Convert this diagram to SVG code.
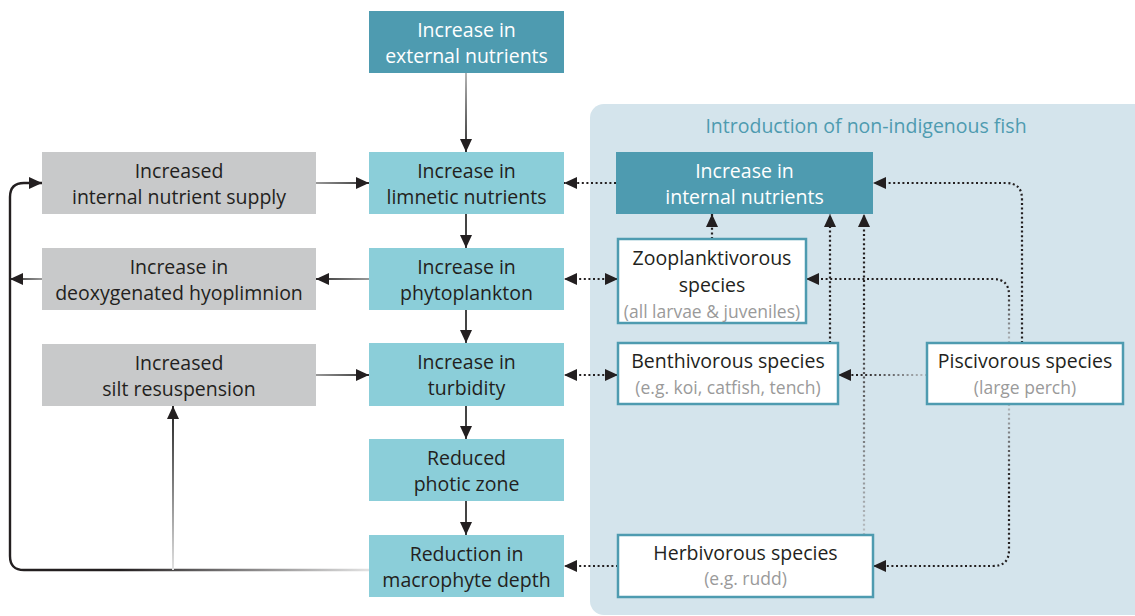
<svg xmlns="http://www.w3.org/2000/svg" width="1135" height="616" viewBox="0 0 1135 616">
<style>
text{font-family:"Open Sans","Liberation Sans",sans-serif;font-size:19.5px;text-anchor:middle;fill:#231F20}
.w{fill:#ffffff}
.sub{font-size:17.5px;fill:#9A9A9A}
.title{fill:#4E9BB0;font-size:19.5px}
.dark{fill:#4E9BB0}
.lite{fill:#8BCED9}
.grey{fill:#C8C9CA}
.fish{fill:#ffffff;stroke:#4E9BB0;stroke-width:2.5}
.solid{fill:none;stroke:#444;stroke-width:2}
.dot{fill:none;stroke:#231F20;stroke-width:2.2;stroke-dasharray:2 2.6}
</style>
<defs>
<marker id="ah" markerUnits="userSpaceOnUse" markerWidth="14" markerHeight="12" refX="13" refY="6" orient="auto-start-reverse">
<path d="M0,0 L13,6 L0,12 Z" fill="#231F20"/>
</marker>
<linearGradient id="gExt" gradientUnits="userSpaceOnUse" x1="0" y1="73" x2="0" y2="150"><stop offset="0" stop-color="#B5B5B5"/><stop offset="1" stop-color="#333"/></linearGradient>
<linearGradient id="gR" gradientUnits="userSpaceOnUse" x1="316" y1="0" x2="369" y2="0"><stop offset="0" stop-color="#999"/><stop offset="1" stop-color="#333"/></linearGradient>
<linearGradient id="gL" gradientUnits="userSpaceOnUse" x1="369" y1="0" x2="316" y2="0"><stop offset="0" stop-color="#999"/><stop offset="1" stop-color="#333"/></linearGradient>
<linearGradient id="gL2" gradientUnits="userSpaceOnUse" x1="42" y1="0" x2="10" y2="0"><stop offset="0" stop-color="#999"/><stop offset="1" stop-color="#333"/></linearGradient>
<linearGradient id="gLoop" gradientUnits="userSpaceOnUse" x1="369" y1="0" x2="120" y2="0"><stop offset="0" stop-color="#E2E2E2"/><stop offset="1" stop-color="#231F20"/></linearGradient>
<linearGradient id="gUp" gradientUnits="userSpaceOnUse" x1="0" y1="570" x2="0" y2="420"><stop offset="0" stop-color="#E2E2E2"/><stop offset="1" stop-color="#333"/></linearGradient>
<linearGradient id="gHerbUp" gradientUnits="userSpaceOnUse" x1="0" y1="535" x2="0" y2="300"><stop offset="0" stop-color="#B8BEC2"/><stop offset="1" stop-color="#231F20"/></linearGradient>
<linearGradient id="gPB" gradientUnits="userSpaceOnUse" x1="927" y1="0" x2="860" y2="0"><stop offset="0" stop-color="#B8BEC2"/><stop offset="1" stop-color="#231F20"/></linearGradient>
<linearGradient id="gPZ" gradientUnits="userSpaceOnUse" x1="0" y1="343" x2="0" y2="290"><stop offset="0" stop-color="#B8BEC2"/><stop offset="1" stop-color="#231F20"/></linearGradient>
<linearGradient id="gPH" gradientUnits="userSpaceOnUse" x1="0" y1="404" x2="0" y2="480"><stop offset="0" stop-color="#B8BEC2"/><stop offset="1" stop-color="#231F20"/></linearGradient>
</defs>

<rect x="590" y="104" width="560" height="511" rx="14" fill="#D4E4EC"/>
<text class="title" x="866" y="133">Introduction of non-indigenous fish</text>

<g id="connectors">
<line class="solid" x1="466" y1="73" x2="466" y2="152" stroke="url(#gExt)" style="stroke:url(#gExt)" marker-end="url(#ah)"/>
<line class="solid" x1="466" y1="214" x2="466" y2="248" marker-end="url(#ah)"/>
<line class="solid" x1="466" y1="310" x2="466" y2="343" marker-end="url(#ah)"/>
<line class="solid" x1="466" y1="406" x2="466" y2="439" marker-end="url(#ah)"/>
<line class="solid" x1="466" y1="501" x2="466" y2="535" marker-end="url(#ah)"/>
<line class="solid" x1="316" y1="183" x2="369" y2="183" style="stroke:url(#gR)" marker-end="url(#ah)"/>
<line class="solid" x1="369" y1="279" x2="316" y2="279" style="stroke:url(#gL)" marker-end="url(#ah)"/>
<line class="solid" x1="316" y1="375" x2="369" y2="375" style="stroke:url(#gR)" marker-end="url(#ah)"/>
<line class="solid" x1="42" y1="279" x2="10" y2="279" style="stroke:url(#gL2)" marker-end="url(#ah)"/>
<path class="solid" d="M369,570 H24 Q10,570 10,556 V197 Q10,183 24,183 H42" style="stroke:url(#gLoop);stroke-width:2.4" marker-end="url(#ah)"/>
<line class="solid" x1="173" y1="570" x2="173" y2="406" style="stroke:url(#gUp)" marker-end="url(#ah)"/>

<line class="dot" x1="616" y1="183" x2="564" y2="183" marker-end="url(#ah)"/>
<line class="dot" x1="618" y1="279" x2="564" y2="279" marker-start="url(#ah)" marker-end="url(#ah)"/>
<line class="dot" x1="618" y1="375" x2="564" y2="375" marker-start="url(#ah)" marker-end="url(#ah)"/>
<line class="dot" x1="618" y1="566" x2="564" y2="566" marker-end="url(#ah)"/>
<line class="dot" x1="712" y1="239" x2="712" y2="214" marker-end="url(#ah)"/>
<line class="dot" x1="830" y1="343" x2="830" y2="214" marker-end="url(#ah)"/>
<line class="dot" x1="864" y1="535" x2="864" y2="214" style="stroke:url(#gHerbUp)" marker-end="url(#ah)"/>
<line class="dot" x1="927" y1="375" x2="838" y2="375" style="stroke:url(#gPB)" marker-end="url(#ah)"/>
<path class="dot" d="M1009,343 V295 Q1009,279 993,279 H806" style="stroke:url(#gPZ)" marker-end="url(#ah)"/>
<path class="dot" d="M1022,343 V199 Q1022,183 1006,183 H873" marker-end="url(#ah)"/>
<path class="dot" d="M1009,404 V550 Q1009,566 993,566 H873" style="stroke:url(#gPH)" marker-end="url(#ah)"/>
</g>

<g id="external-nutrients"><rect class="dark" x="369" y="11" width="195" height="62"/><text class="w" x="466.5" y="37">Increase in</text><text class="w" x="466.5" y="63">external nutrients</text></g>
<g id="limnetic-nutrients"><rect class="lite" x="369" y="152" width="195" height="62"/><text x="466.5" y="178">Increase in</text><text x="466.5" y="204">limnetic nutrients</text></g>
<g id="phytoplankton"><rect class="lite" x="369" y="248" width="195" height="62"/><text x="466.5" y="274">Increase in</text><text x="466.5" y="300">phytoplankton</text></g>
<g id="turbidity"><rect class="lite" x="369" y="343" width="195" height="63"/><text x="466.5" y="369">Increase in</text><text x="466.5" y="395">turbidity</text></g>
<g id="photic-zone"><rect class="lite" x="369" y="439" width="195" height="62"/><text x="466.5" y="465">Reduced</text><text x="466.5" y="491">photic zone</text></g>
<g id="macrophyte-depth"><rect class="lite" x="369" y="535" width="195" height="62"/><text x="466.5" y="561">Reduction in</text><text x="466.5" y="587">macrophyte depth</text></g>

<g id="internal-nutrient-supply"><rect class="grey" x="42" y="152" width="274" height="62"/><text x="179" y="178">Increased</text><text x="179" y="204">internal nutrient supply</text></g>
<g id="deoxygenated-hypolimnion"><rect class="grey" x="42" y="248" width="274" height="62"/><text x="179" y="274">Increase in</text><text x="179" y="300">deoxygenated hyoplimnion</text></g>
<g id="silt-resuspension"><rect class="grey" x="42" y="344" width="274" height="62"/><text x="179" y="370">Increased</text><text x="179" y="396">silt resuspension</text></g>

<g id="internal-nutrients"><rect class="dark" x="616" y="152" width="257" height="62"/><text class="w" x="744.5" y="178">Increase in</text><text class="w" x="744.5" y="204">internal nutrients</text></g>
<g id="zooplanktivorous"><rect class="fish" x="618" y="239" width="188" height="84"/><text x="712" y="265">Zooplanktivorous</text><text x="712" y="292">species</text><text class="sub" x="712" y="318">(all larvae &amp; juveniles)</text></g>
<g id="benthivorous"><rect class="fish" x="618" y="343" width="220" height="61"/><text x="728" y="368">Benthivorous species</text><text class="sub" x="728" y="394">(e.g. koi, catfish, tench)</text></g>
<g id="piscivorous"><rect class="fish" x="927" y="343" width="196" height="61"/><text x="1025" y="368">Piscivorous species</text><text class="sub" x="1025" y="394">(large perch)</text></g>
<g id="herbivorous"><rect class="fish" x="618" y="535" width="255" height="62"/><text x="745.5" y="560">Herbivorous species</text><text class="sub" x="745.5" y="585">(e.g. rudd)</text></g>
</svg>
